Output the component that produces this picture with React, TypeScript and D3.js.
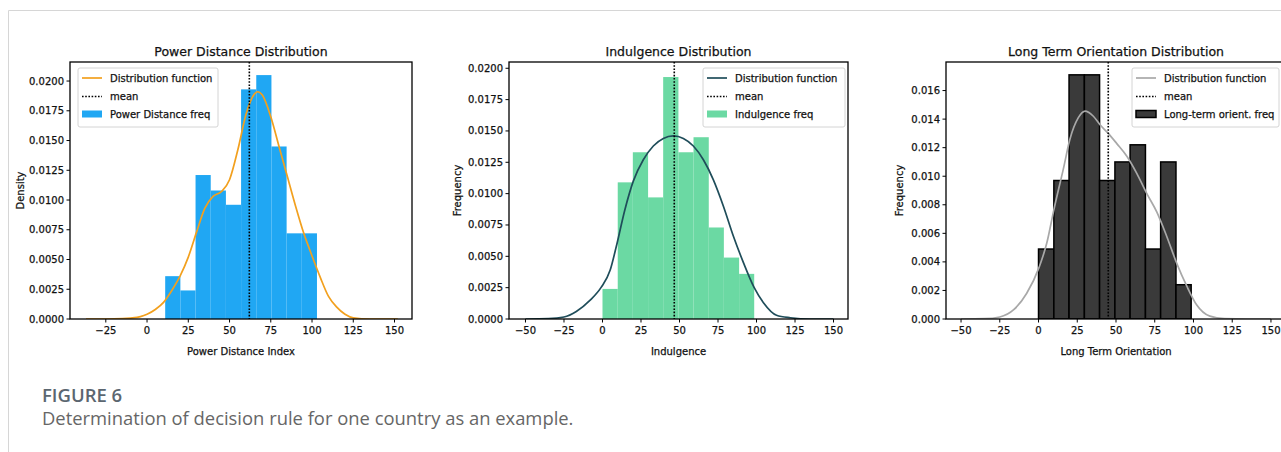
import React from "react";
import * as d3 from "d3";

// ---------- Data ----------
const pdEdges = [11, 20.2, 29.4, 38.6, 47.8, 57, 66.2, 75.4, 84.6, 93.8, 103];
const pdDensity = [0.0036, 0.0024, 0.0121, 0.0108, 0.0096, 0.0193, 0.0205, 0.0145, 0.0072, 0.0072];
const pdKdeX = [-37, -25, -15, -10, -4, 0, 5, 10, 15, 20, 25, 30, 35, 40, 45, 50, 55, 60, 65, 67, 70, 75, 80, 85, 90, 95, 100, 105, 110, 115, 120, 125, 135, 152];
const pdKdeY = [0, 0, 0.00003, 0.00008, 0.0002, 0.0004, 0.0008, 0.0014, 0.0024, 0.0036, 0.0052, 0.0073, 0.0093, 0.0103, 0.0107, 0.0117, 0.0142, 0.0172, 0.0189, 0.0191, 0.0188, 0.017, 0.0145, 0.012, 0.0095, 0.0072, 0.0053, 0.0035, 0.0019, 0.001, 0.0004, 0.0001, 0, 0];
const pdMean = 62;

const inEdges = [0, 9.9, 19.7, 29.6, 39.4, 49.3, 59.1, 69, 78.8, 88.7, 98.5];
const inDensity = [0.0024, 0.0109, 0.0133, 0.0097, 0.0193, 0.0133, 0.0145, 0.0073, 0.0049, 0.0036];
const inKdeX = [-50, -35, -25, -17, -8, -1, 5, 9, 14.5, 20, 26.5, 33, 39.5, 46, 52.5, 59, 65.5, 72, 78.5, 85, 91.5, 98.5, 104.5, 113, 122, 135, 150];
const inKdeY = [0, 0.00003, 0.00016, 0.0006, 0.0015, 0.0025, 0.0039, 0.0058, 0.0087, 0.011, 0.0127, 0.0138, 0.0144, 0.0146, 0.0144, 0.0138, 0.0127, 0.0111, 0.009, 0.0066, 0.0045, 0.0025, 0.0013, 0.0003, 0.0001, 0, 0];
const inMean = 46.6;

const ltEdges = [0, 9.9, 19.7, 29.6, 39.4, 49.3, 59.1, 69, 78.8, 88.7, 98.5];
const ltDensity = [0.0049, 0.0097, 0.0171, 0.0171, 0.0097, 0.011, 0.0122, 0.0049, 0.011, 0.0024];
const ltKdeX = [-50, -35, -25, -16, -7.6, 0.3, 5.3, 10, 16, 20.3, 25.7, 30, 35.4, 39.7, 45, 50.4, 57, 63.4, 69.8, 76.3, 82.7, 89.2, 95.7, 102, 110.6, 120, 135, 150];
const ltKdeY = [0, 0.00002, 0.00014, 0.00065, 0.0018, 0.0036, 0.0053, 0.0077, 0.0105, 0.0126, 0.0141, 0.01456, 0.0142, 0.0136, 0.013, 0.0123, 0.0114, 0.0102, 0.0088, 0.0075, 0.0058, 0.0039, 0.0023, 0.001, 0.0002, 0.00003, 0, 0];
const ltMean = 45;

const xTicksA = [-25, 0, 25, 50, 75, 100, 125, 150];
const xTicksB = [-50, -25, 0, 25, 50, 75, 100, 125, 150];
const yTicksA = [0, 0.0025, 0.005, 0.0075, 0.01, 0.0125, 0.015, 0.0175, 0.02];
const yTicksC = [0, 0.002, 0.004, 0.006, 0.008, 0.01, 0.012, 0.014, 0.016];

const FONT = "'DejaVu Sans', sans-serif";
const TXT = { fontFamily: FONT, fill: "#111", stroke: "#111", strokeWidth: 0.25 };

type PanelProps = {
  title: string;
  xLabel: string;
  yLabel: string;
  left: number;
  right: number;
  xDomain: [number, number];
  yMax: number;
  xTicks: number[];
  yTicks: number[];
  yFmt: string;
  edges: number[];
  density: number[];
  kdeX: number[];
  kdeY: number[];
  mean: number;
  barFill: string;
  barStroke: string;
  barStrokeW: number;
  lineColor: string;
  legendX: number;
  legendW: number;
  freqLabel: string;
  yLabelX: number;
};

const TOP = 62;
const BOTTOM = 319;

function Panel(p: PanelProps) {
  const x = d3.scaleLinear().domain(p.xDomain).range([p.left, p.right]);
  const y = d3.scaleLinear().domain([0, p.yMax]).range([BOTTOM, TOP]);
  const fmt = d3.format(p.yFmt);
  const line = d3
    .line<number>()
    .x((_, i) => x(p.kdeX[i]))
    .y((d) => y(d))
    .curve(d3.curveMonotoneX);
  const clipId = "clip" + p.left;
  const ly = 68;
  const cx = (p.left + p.right) / 2;
  return (
    <g>
      <defs>
        <clipPath id={clipId}>
          <rect x={p.left} y={TOP} width={p.right - p.left} height={BOTTOM - TOP} />
        </clipPath>
      </defs>
      <g clipPath={`url(#${clipId})`}>
        {p.density.map((d, i) => (
          <rect
            key={i}
            x={x(p.edges[i])}
            y={y(d)}
            width={x(p.edges[i + 1]) - x(p.edges[i])}
            height={BOTTOM - y(d)}
            fill={p.barFill}
            stroke={p.barStroke}
            strokeWidth={p.barStrokeW}
          />
        ))}
        <path d={line(p.kdeY) || ""} fill="none" stroke={p.lineColor} strokeWidth={1.7} />
        <line
          x1={x(p.mean)}
          x2={x(p.mean)}
          y1={TOP}
          y2={BOTTOM}
          stroke="#000"
          strokeWidth={1.6}
          strokeDasharray="1.6,1.6"
        />
      </g>
      {/* spines */}
      <rect
        x={p.left}
        y={TOP}
        width={p.right - p.left}
        height={BOTTOM - TOP}
        fill="none"
        stroke="#000"
        strokeWidth={1.3}
      />
      {/* x ticks */}
      {p.xTicks.map((t) => (
        <g key={t} transform={`translate(${x(t)},${BOTTOM})`}>
          <line y1={0} y2={3.5} stroke="#000" strokeWidth={1} />
          <text y={14.5} textAnchor="middle" fontSize={10} {...TXT}>
            {t < 0 ? "\u2212" + Math.abs(t) : t}
          </text>
        </g>
      ))}
      {/* y ticks */}
      {p.yTicks.map((t) => (
        <g key={t} transform={`translate(${p.left},${y(t)})`}>
          <line x1={0} x2={-3.5} stroke="#000" strokeWidth={1} />
          <text x={-6} dy="0.35em" textAnchor="end" fontSize={10} {...TXT}>
            {fmt(t)}
          </text>
        </g>
      ))}
      {/* labels */}
      <text x={cx} y={56} textAnchor="middle" fontSize={12.5} {...TXT}>
        {p.title}
      </text>
      <text x={cx} y={355} textAnchor="middle" fontSize={10} {...TXT}>
        {p.xLabel}
      </text>
      <text
        transform={`translate(${p.yLabelX},${(TOP + BOTTOM) / 2}) rotate(-90)`}
        textAnchor="middle"
        fontSize={10}
        {...TXT}
      >
        {p.yLabel}
      </text>
      {/* legend */}
      <g>
        <rect
          x={p.legendX}
          y={ly}
          width={p.legendW}
          height={59}
          rx={2}
          fill="#fff"
          fillOpacity={0.85}
          stroke="#d4d4d4"
          strokeWidth={1}
        />
        <line x1={p.legendX + 4} x2={p.legendX + 24} y1={ly + 10} y2={ly + 10} stroke={p.lineColor} strokeWidth={1.7} />
        <line
          x1={p.legendX + 4}
          x2={p.legendX + 24}
          y1={ly + 28.5}
          y2={ly + 28.5}
          stroke="#000"
          strokeWidth={1.6}
          strokeDasharray="1.6,1.6"
        />
        <rect
          x={p.legendX + 4}
          y={ly + 42.5}
          width={20}
          height={7}
          fill={p.barFill}
          stroke={p.barStroke}
          strokeWidth={p.barStrokeW}
        />
        {["Distribution function", "mean", p.freqLabel].map((s, i) => (
          <text key={s} x={p.legendX + 32} y={ly + 10 + i * 18} dy="0.35em" fontSize={10} {...TXT}>
            {s}
          </text>
        ))}
      </g>
    </g>
  );
}

export default function App() {
  return (
    <svg width={1281} height={452} style={{ position: "absolute", left: 0, top: 0, background: "#fff" }}>
      <rect x={0} y={0} width={1281} height={452} fill="#fff" />
      <line x1={8.5} x2={1281} y1={10.5} y2={10.5} stroke="#d6d6d6" strokeWidth={1} />
      <line x1={8.5} x2={8.5} y1={10.5} y2={452} stroke="#d6d6d6" strokeWidth={1} />
      <Panel
        title="Power Distance Distribution"
        xLabel="Power Distance Index"
        yLabel="Density"
        left={70}
        right={412}
        xDomain={[-46.7, 160.6]}
        yMax={0.0216}
        xTicks={xTicksA}
        yTicks={yTicksA}
        yFmt=".4f"
        edges={pdEdges}
        density={pdDensity}
        kdeX={pdKdeX}
        kdeY={pdKdeY}
        mean={pdMean}
        barFill="#20a7f3"
        barStroke="none"
        barStrokeW={0}
        lineColor="#f2a01e"
        legendX={78}
        legendW={140}
        freqLabel="Power Distance freq"
        yLabelX={24}
      />
      <Panel
        title="Indulgence Distribution"
        xLabel="Indulgence"
        yLabel="Frequency"
        left={509}
        right={848}
        xDomain={[-60.7, 159.4]}
        yMax={0.0205}
        xTicks={xTicksB}
        yTicks={yTicksA}
        yFmt=".4f"
        edges={inEdges}
        density={inDensity}
        kdeX={inKdeX}
        kdeY={inKdeY}
        mean={inMean}
        barFill="#6bd9a3"
        barStroke="none"
        barStrokeW={0}
        lineColor="#1f4d5a"
        legendX={703}
        legendW={142}
        freqLabel="Indulgence freq"
        yLabelX={461}
      />
      <Panel
        title="Long Term Orientation Distribution"
        xLabel="Long Term Orientation"
        yLabel="Frequency"
        left={946}
        right={1286}
        xDomain={[-59.7, 159.7]}
        yMax={0.018}
        xTicks={xTicksB}
        yTicks={yTicksC}
        yFmt=".3f"
        edges={ltEdges}
        density={ltDensity}
        kdeX={ltKdeX}
        kdeY={ltKdeY}
        mean={ltMean}
        barFill="#3a3a3a"
        barStroke="#000"
        barStrokeW={1.5}
        lineColor="#a8a8a8"
        legendX={1132}
        legendW={147}
        freqLabel="Long-term orient. freq"
        yLabelX={903}
      />
      <text x={42} y={402} fontSize={18.5} fontWeight={600} fontFamily="'Open Sans', sans-serif" fill="#5b6670">
        FIGURE 6
      </text>
      <text x={42} y={425} fontSize={18.4} fontFamily="'Open Sans', sans-serif" fill="#666">
        Determination of decision rule for one country as an example.
      </text>
    </svg>
  );
}
